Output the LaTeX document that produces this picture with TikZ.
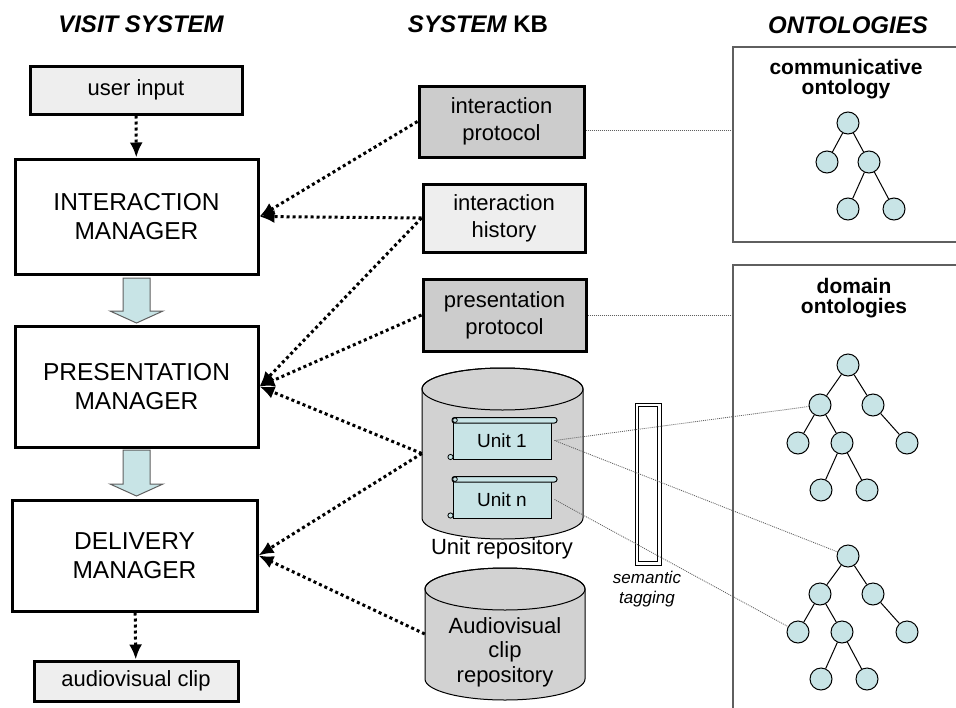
\documentclass[tikz,border=0pt]{standalone}
\usepackage{fontspec}
\setmainfont{Liberation Sans}
\usetikzlibrary{arrows.meta,calc}
\definecolor{lblue}{RGB}{200,228,230}
\definecolor{lgray}{RGB}{238,238,238}
\definecolor{mgray}{RGB}{204,204,204}
\definecolor{cgray}{RGB}{210,210,210}
\definecolor{fgray}{RGB}{95,95,95}
\newcommand\mycyl[4]{%
  \path[cylfill] (#1-#4,#2) -- (#1-#4,#3) arc[start angle=180,end angle=360,x radius=#4pt,y radius=21pt]
     -- (#1+#4,#2) arc[start angle=0,end angle=180,x radius=#4pt,y radius=21pt] -- cycle;
  \draw[line width=1pt] (#1,#2) ellipse[x radius=#4pt,y radius=21pt];
}
\tikzset{
  mgr/.style={draw, line width=3pt, fill=white, align=center, inner sep=0pt, font=\fontsize{24.5}{29}\selectfont},
  io/.style={draw, line width=3pt, fill=lgray, align=center, inner sep=0pt, font=\fontsize{22}{27}\selectfont},
  kb/.style={draw, line width=3pt, align=center, inner sep=0pt, font=\fontsize{22}{27}\selectfont},
  heading/.style={font=\fontsize{24}{28}\selectfont\bfseries\itshape},
  dotarrow/.style={line width=3pt, dash pattern=on 3pt off 3pt, -{Latex[length=15pt,width=13pt]}},
  thindot/.style={line width=0.8pt, fgray, dash pattern=on 1pt off 1pt},
  tnode/.style={circle, draw, fill=lblue, line width=1pt, minimum size=22pt, inner sep=0pt},
  tedge/.style={line width=1pt},
  blockarr/.style={fill=lblue, draw=fgray, line width=1pt},
  ontframe/.style={draw=fgray, line width=1.5pt},
  cylfill/.style={fill=cgray, draw=black, line width=1pt},
  unitbody/.style={draw, fill=lblue, line width=1pt, minimum width=98pt, minimum height=38pt, inner sep=0pt, font=\fontsize{19}{22}\selectfont},
  roll/.style={draw, fill=lblue, line width=1pt, rounded corners=2.5pt},
  plain/.style={align=center, inner sep=0pt}
}
\begin{document}
\begin{tikzpicture}[x=1pt,y=-1pt]
\useasboundingbox (0,0) rectangle (956,707);

% headings
\node[heading] (h1) at (141,24) {VISIT SYSTEM};
\node[heading] (h2) at (478,24) {SYSTEM \upshape KB};
\node[heading] (h3) at (848,25) {ONTOLOGIES};

% left column
\node[io, minimum width=212pt, minimum height=48pt] (ui) at (136,90) {user input};
\node[mgr, minimum width=243pt, minimum height=115pt] (im) at (136.5,216.5) {INTERACTION\\MANAGER};
\node[mgr, minimum width=243pt, minimum height=121pt] (pm) at (136.5,386.5) {PRESENTATION\\MANAGER};
\node[mgr, minimum width=245pt, minimum height=111pt] (dm) at (134.5,555.5) {DELIVERY\\MANAGER};
\node[io, minimum width=204pt, minimum height=40pt] (avc) at (136,681) {audiovisual clip};

\draw[dotarrow] (ui) -- (im);
\draw[dotarrow] (dm) -- (avc);

\draw[blockarr] (123,278) -- (150,278) -- (150,311) -- (163,311) -- (136.5,323) -- (110,311) -- (123,311) -- cycle;
\draw[blockarr] (123,450) -- (150,450) -- (150,484) -- (163,484) -- (136.5,496) -- (110,484) -- (123,484) -- cycle;

% KB column
\node[kb, fill=mgray, minimum width=165pt, minimum height=71pt] (ip) at (501.5,121.5) {interaction\\protocol};
\node[kb, fill=lgray, minimum width=162pt, minimum height=68pt] (ih) at (504,218) {interaction\\history};
\node[kb, fill=mgray, minimum width=163pt, minimum height=72pt] (pp) at (504.5,315) {presentation\\protocol};

% unit repository
\mycyl{502.5}{389}{518}{80.5}
\node[minimum width=161pt, minimum height=171pt, inner sep=0pt] (ur) at (502.5,453.5) {};
\node[unitbody] (unit1) at (502,440.5) {Unit 1};
\draw[roll] (452,417.5) rectangle (557,423);
\draw[line width=0.8pt, fill=lblue] (455,420.2) circle (2.3pt);
\draw[line width=0.8pt, fill=lblue] (450.5,457) circle (2.6pt);
\node[unitbody] (unitn) at (502,499.5) {Unit n};
\draw[roll] (452,476.5) rectangle (557,482);
\draw[line width=0.8pt, fill=lblue] (455,479.2) circle (2.3pt);
\draw[line width=0.8pt, fill=lblue] (450.5,515.5) circle (2.6pt);
\node[plain, font=\fontsize{22}{27}\selectfont] (urlabel) at (502,549) {Unit repository};

% audiovisual clip repository
\mycyl{505}{589}{679}{80}
\node[minimum width=160pt, minimum height=132pt, inner sep=0pt] (av) at (505,634) {};
\node[plain, font=\fontsize{22}{24.5}\selectfont] (avlabel) at (505,652) {Audiovisual\\clip\\repository};

% semantic tagging
\draw[line width=1pt] (635,403) rectangle (661,565);
\draw[line width=1pt] (638.5,406.5) rectangle (657.5,561.5);
\node[plain, font=\fontsize{17}{19.5}\selectfont\itshape] (st) at (647,589) {semantic\\tagging};

% ontology frames
\draw[ontframe] (958,47) -- (733,47) -- (733,242) -- (958,242);
\draw[ontframe] (958,265) -- (733,265) -- (733,709);
\coordinate (commin) at (733,130);
\coordinate (domin) at (733,315);
\node[plain, font=\fontsize{21}{20}\selectfont\bfseries] (comlabel) at (846,79) {communicative\\ontology};
\node[plain, font=\fontsize{21}{20}\selectfont\bfseries] (domlabel) at (854,298) {domain\\ontologies};

% communicative tree
\foreach \n/\x/\y in {cr/848/123, cs/827/162, ct/869/162, cu/848/209, cv/894/209}
  \node[tnode] (\n) at (\x,\y) {};
\draw[tedge] (cr) -- (cs) (cr) -- (ct) (ct) -- (cu) (ct) -- (cv);

% domain trees
\foreach \n/\x/\y in {a1/848/365, b1/820/405, c1/873/405, d1/798/443, e1/842/443, f1/907/443, g1/821/490, h1/867/490,
                      a2/848/556, b2/820/594, c2/873/594, d2/798/632, e2/842/632, f2/907/632, g2/821/679, h2/867/679}
  \node[tnode] (\n) at (\x,\y) {};
\foreach \t in {1,2}{
  \draw[tedge] (a\t) -- (b\t) (a\t) -- (c\t) (b\t) -- (d\t) (b\t) -- (e\t) (c\t) -- (f\t) (e\t) -- (g\t) (e\t) -- (h\t);
}

% thick dotted arrows
\draw[dotarrow] (ip.west) -- (im.east);
\draw[dotarrow] (ih.west) -- (im.east);
\draw[dotarrow] (ih.west) -- (pm.east);
\draw[dotarrow] (pp.west) -- (pm.east);
\draw[dotarrow] (ur.west) -- (pm.east);
\draw[dotarrow] (ur.west) -- (dm.east);
\draw[dotarrow] (av.west) -- (dm.east);

% thin dotted links
\draw[thindot] ([yshift=-8.5pt]ip.east) -- (commin);
\draw[thindot] (pp.east) -- (domin);
\draw[thindot] ([xshift=3pt]unit1.east) -- (b1);
\draw[thindot] ([xshift=3pt]unit1.east) -- (a2);
\draw[thindot] ([xshift=3pt]unitn.east) -- (d2);
\end{tikzpicture}
\end{document}
